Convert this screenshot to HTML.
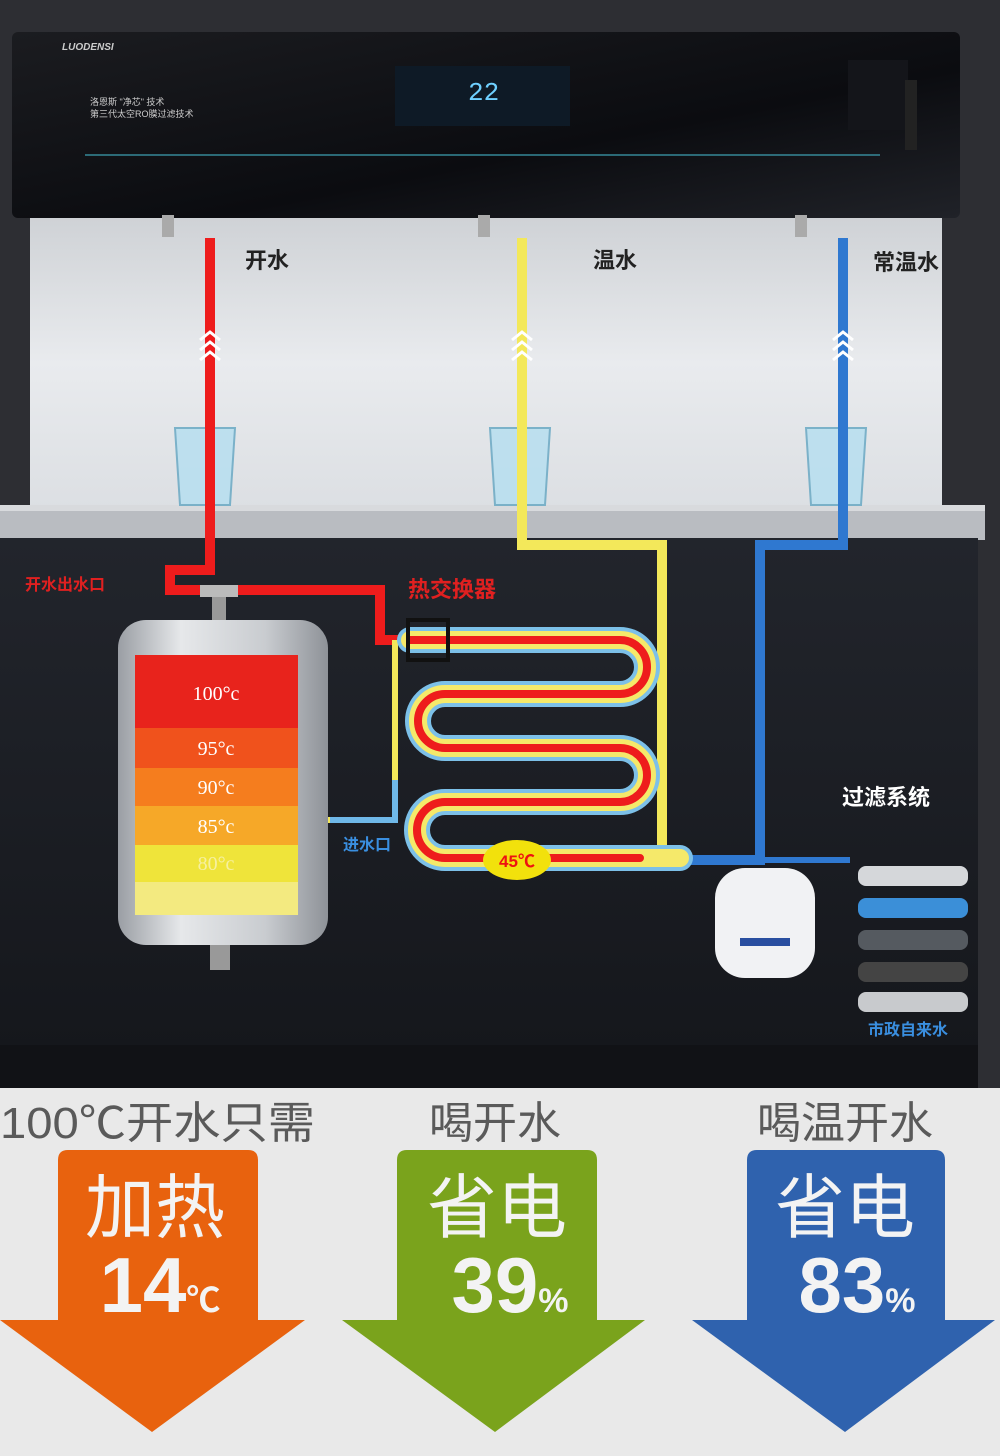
<!DOCTYPE html>
<html><head><meta charset="utf-8">
<style>
html,body{margin:0;padding:0;}
body{width:1000px;height:1456px;position:relative;overflow:hidden;background:#2b2c30;font-family:"Liberation Sans","Noto Sans CJK SC",sans-serif;}
.abs{position:absolute;}
</style></head><body>
<svg class="abs" style="left:0;top:0" width="1000" height="1456" viewBox="0 0 1000 1456">
<defs>
<linearGradient id="silver" x1="0" y1="0" x2="0" y2="1">
<stop offset="0" stop-color="#cfd2d6"/><stop offset="0.5" stop-color="#e9ebee"/><stop offset="1" stop-color="#dcdfe3"/></linearGradient>
<linearGradient id="top" x1="0" y1="0" x2="1" y2="1">
<stop offset="0" stop-color="#1b1c20"/><stop offset="0.6" stop-color="#0b0c10"/><stop offset="1" stop-color="#202228"/></linearGradient>
<linearGradient id="tank" x1="0" y1="0" x2="1" y2="0">
<stop offset="0" stop-color="#9a9ea4"/><stop offset="0.3" stop-color="#e6e8ea"/><stop offset="0.7" stop-color="#c9ccd0"/><stop offset="1" stop-color="#8e9298"/></linearGradient>
<linearGradient id="cab" x1="0" y1="0" x2="0" y2="1">
<stop offset="0" stop-color="#22252c"/><stop offset="1" stop-color="#15171c"/></linearGradient>
</defs>
<rect x="0" y="0" width="1000" height="1090" fill="#2d2e33"/>
<rect x="12" y="32" width="948" height="186" rx="6" fill="url(#top)"/>
<rect x="395" y="66" width="175" height="60" fill="#0e1a26"/>
<text x="468" y="100" font-size="26" fill="#6fd0ff" font-family="Liberation Mono">22</text>
<text x="62" y="50" font-size="10" fill="#ccc" font-style="italic" font-weight="bold">LUODENSI</text>
<text x="90" y="105" font-size="9" fill="#ccc">洛恩斯 "净芯" 技术</text>
<text x="90" y="117" font-size="9" fill="#ccc">第三代太空RO膜过滤技术</text>
<rect x="848" y="60" width="60" height="70" fill="#14151a"/>
<rect x="905" y="80" width="12" height="70" fill="#222"/>
<line x1="85" y1="155" x2="880" y2="155" stroke="#3fa6b8" stroke-width="2" opacity="0.6"/>
<rect x="30" y="218" width="912" height="290" fill="url(#silver)"/>
<rect x="0" y="505" width="985" height="35" fill="#b9bcc1"/>
<rect x="0" y="505" width="985" height="6" fill="#d8dadd"/>
<rect x="0" y="538" width="978" height="512" fill="url(#cab)"/>
<rect x="0" y="1045" width="978" height="45" fill="#111216"/>
<rect x="162" y="215" width="12" height="22" fill="#aaa"/>
<rect x="478" y="215" width="12" height="22" fill="#aaa"/>
<rect x="795" y="215" width="12" height="22" fill="#aaa"/>
<g fill="#b7dff0" stroke="#6aa9c4" stroke-width="2" opacity="0.85">
<path d="M175 428 L235 428 L230 505 L180 505 Z"/>
<path d="M490 428 L550 428 L545 505 L495 505 Z"/>
<path d="M806 428 L866 428 L861 505 L811 505 Z"/>
</g>
<g fill="none" stroke-width="10" stroke-linejoin="miter">
<polyline points="210,238 210,570 170,570 170,590 380,590 380,640 410,640" stroke="#ee1c1c"/>
<polyline points="522,238 522,545 662,545 662,855 640,855" stroke="#f3e85a"/>
<polyline points="843,238 843,545 760,545 760,860 680,860" stroke="#2f78d0"/>
<polyline points="328,820 395,820 395,640" stroke="#f3e85a" stroke-width="6"/>
<polyline points="330,820 395,820 395,780" stroke="#6fb8e8" stroke-width="6"/>
<polyline points="760,860 850,860" stroke="#2f78d0" stroke-width="6"/>
</g>
<g fill="none" stroke-linecap="round">
<path d="M410 640 L620 640 A27 27 0 0 1 620 694 L445 694 A27 27 0 0 0 445 748 L620 748 A27 27 0 0 1 620 802 L445 802 A27 27 0 0 0 445 858 L680 858" stroke="#7cc0e8" stroke-width="26"/>
<path d="M410 640 L620 640 A27 27 0 0 1 620 694 L445 694 A27 27 0 0 0 445 748 L620 748 A27 27 0 0 1 620 802 L445 802 A27 27 0 0 0 445 858 L680 858" stroke="#f5e96a" stroke-width="18"/>
<path d="M410 640 L620 640 A27 27 0 0 1 620 694 L445 694 A27 27 0 0 0 445 748 L620 748 A27 27 0 0 1 620 802 L445 802 A27 27 0 0 0 445 858 L640 858" stroke="#ee1c1c" stroke-width="8"/>
</g>
<rect x="408" y="620" width="40" height="40" fill="none" stroke="#111" stroke-width="4"/>
<ellipse cx="517" cy="860" rx="34" ry="20" fill="#f2e10c"/>
<text x="517" y="867" font-size="17" font-weight="bold" fill="#e11" text-anchor="middle">45℃</text>
<g fill="none" stroke="#fff" stroke-width="3">
<path d="M200 340 l10 -8 l10 8 M200 350 l10 -8 l10 8 M200 360 l10 -8 l10 8"/>
<path d="M512 340 l10 -8 l10 8 M512 350 l10 -8 l10 8 M512 360 l10 -8 l10 8"/>
<path d="M833 340 l10 -8 l10 8 M833 350 l10 -8 l10 8 M833 360 l10 -8 l10 8"/>
</g>
<rect x="200" y="585" width="38" height="12" fill="#bbb"/>
<rect x="212" y="597" width="14" height="25" fill="#999"/>
<rect x="118" y="620" width="210" height="325" rx="28" fill="url(#tank)"/>
<rect x="135" y="655" width="163" height="73" fill="#e8231c"/>
<rect x="135" y="728" width="163" height="40" fill="#f0521c"/>
<rect x="135" y="768" width="163" height="38" fill="#f57d1e"/>
<rect x="135" y="806" width="163" height="39" fill="#f6a828"/>
<rect x="135" y="845" width="163" height="37" fill="#efe43a"/>
<rect x="135" y="882" width="163" height="33" fill="#f3ea80"/>
<rect x="210" y="945" width="20" height="25" fill="#999"/>
<g fill="#fff" font-family="Liberation Serif" font-size="20" text-anchor="middle">
<text x="216" y="700">100°c</text><text x="216" y="755">95°c</text><text x="216" y="794">90°c</text><text x="216" y="833">85°c</text><text x="216" y="870" fill="#f6f0a0">80°c</text>
</g>
<rect x="715" y="868" width="100" height="110" rx="30" fill="#f1f2f4"/>
<rect x="740" y="938" width="50" height="8" fill="#2a4fa0"/>
<g>
<rect x="858" y="866" width="110" height="20" rx="8" fill="#d5d7da"/>
<rect x="858" y="898" width="110" height="20" rx="8" fill="#3b8fd8"/>
<rect x="858" y="930" width="110" height="20" rx="8" fill="#555a60"/>
<rect x="858" y="962" width="110" height="20" rx="8" fill="#444"/>
<rect x="858" y="992" width="110" height="20" rx="8" fill="#c8cacd"/>
</g>
<g font-weight="bold">
<text x="245" y="268" font-size="22" fill="#222">开水</text>
<text x="593" y="268" font-size="22" fill="#222">温水</text>
<text x="873" y="270" font-size="22" fill="#222">常温水</text>
<text x="25" y="590" font-size="16" fill="#e02020">开水出水口</text>
<text x="408" y="597" font-size="22" fill="#e02020">热交换器</text>
<text x="343" y="850" font-size="16" fill="#3a8fe0">进水口</text>
<text x="842" y="805" font-size="22" fill="#fff">过滤系统</text>
<text x="868" y="1035" font-size="16" fill="#3a8fe0">市政自来水</text>
</g>
<rect x="0" y="1088" width="1000" height="368" fill="#e9e9e9"/>
<path d="M58 1160 Q58 1150 68 1150 L248 1150 Q258 1150 258 1160 L258 1320 L305 1320 L152 1432 L0 1320 L58 1320 Z" fill="#e8620e"/>
<path d="M397 1160 Q397 1150 407 1150 L587 1150 Q597 1150 597 1160 L597 1320 L645 1320 L495 1432 L342 1320 L397 1320 Z" fill="#7aa31c"/>
<path d="M747 1160 Q747 1150 757 1150 L935 1150 Q945 1150 945 1160 L945 1320 L995 1320 L845 1432 L692 1320 L747 1320 Z" fill="#2f62ae"/>
<g fill="#5a5a5a" font-size="44">
<text x="0" y="1138" textLength="315" lengthAdjust="spacingAndGlyphs">100℃开水只需</text>
<text x="495" y="1138" text-anchor="middle">喝开水</text>
<text x="845" y="1138" text-anchor="middle">喝温开水</text>
</g>
<g fill="#f3f3f3" text-anchor="middle">
<text x="155" y="1232" font-size="70">加热</text>
<text x="497" y="1232" font-size="70">省电</text>
<text x="845" y="1232" font-size="70">省电</text>
<text x="160" y="1312" font-size="78" font-weight="bold">14<tspan font-size="34">℃</tspan></text>
<text x="510" y="1312" font-size="78" font-weight="bold">39<tspan font-size="34">%</tspan></text>
<text x="857" y="1312" font-size="78" font-weight="bold">83<tspan font-size="34">%</tspan></text>
</g>
</svg>
</body></html>
